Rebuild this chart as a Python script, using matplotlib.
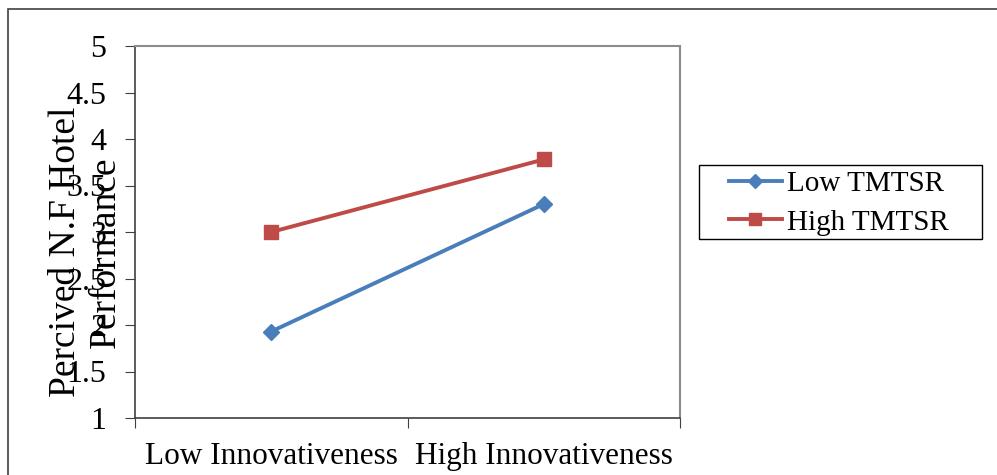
import matplotlib
matplotlib.use("Agg")
import matplotlib.pyplot as plt
from matplotlib.patches import Rectangle

categories = ["Low Innovativeness", "High Innovativeness"]
low_tmtsr = [1.93, 3.30]
high_tmtsr = [3.00, 3.78]
y_ticks = [1, 1.5, 2, 2.5, 3, 3.5, 4, 4.5, 5]
y_tick_labels = ["1", "1.5", "2", "2.5", "3", "3.5", "4", "4.5", "5"]

plt.rcParams["font.family"] = ["Liberation Serif", "DejaVu Serif"]

W, H = 997, 475
fig = plt.figure(figsize=(W / 100, H / 100), dpi=100)
ax = fig.add_axes([135 / W, 57 / H, 545 / W, 372 / H])

# outer chart border
fig.patches.append(Rectangle((8 / W, -0.1), 1.2, (H - 9) / H + 0.1,
                             transform=fig.transFigure, fill=False,
                             edgecolor="#404040", linewidth=1.2))

x = [0.5, 1.5]
ax.plot(x, low_tmtsr, color="#4A7EBB", linewidth=2.8, marker="D",
        markersize=8, label="Low TMTSR")
ax.plot(x, high_tmtsr, color="#BE4B48", linewidth=2.8, marker="s",
        markersize=9.5, label="High TMTSR")

ax.set_xlim(0, 2)
ax.set_ylim(1, 5)
ax.set_yticks(y_ticks)
ax.set_yticklabels(y_tick_labels, fontsize=23)
ax.set_xticks([0, 1, 2])
ax.set_xticklabels([])
ax.set_xticks(x, minor=True)
ax.set_xticklabels(categories, minor=True, fontsize=22.5)
ax.tick_params(axis="x", which="minor", length=0, pad=17)
ax.tick_params(axis="x", which="major", length=7.5, direction="out", color="#404040")
ax.tick_params(axis="y", length=7.5, direction="out", pad=13, color="#404040")

for side in ["top", "right"]:
    ax.spines[side].set_color("#8c8c8c")
    ax.spines[side].set_linewidth(1.5)
for side in ["left", "bottom"]:
    ax.spines[side].set_color("#404040")
    ax.spines[side].set_linewidth(1.2)

ax.set_ylabel("Percived N.F Hotel\nPerformance", fontsize=27, linespacing=1.2)
ax.yaxis.set_label_coords((123 - 135) / 545, (418 - 252) / 372)

# legend with its own frame
fig.patches.append(Rectangle((699 / W, 1 - 239 / H), 283 / W, 74 / H,
                             transform=fig.transFigure, fill=False,
                             edgecolor="black", linewidth=1.0))
ax.legend(loc="center left", bbox_to_anchor=(729 / W, 1 - 203 / H),
          bbox_transform=fig.transFigure, fontsize=21, frameon=False,
          handlelength=1.8, borderpad=0, borderaxespad=0,
          labelspacing=0.42, handletextpad=0.2, markerscale=0.85)

fig.savefig("out.png", dpi=100)
